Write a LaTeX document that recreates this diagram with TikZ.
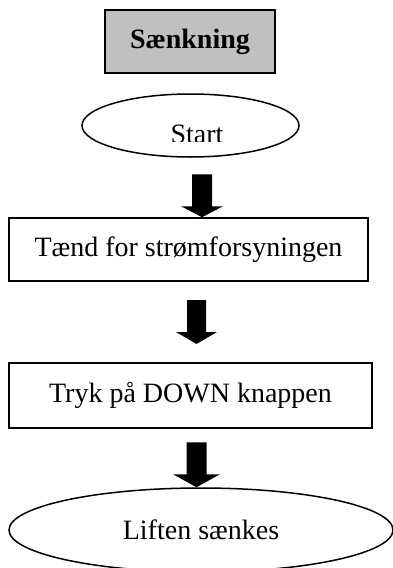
\documentclass[tikz,border=0pt]{standalone}
\usepackage{fontspec}
\setmainfont{Liberation Serif}
\usetikzlibrary{shapes.geometric}
\definecolor{titlegray}{HTML}{C0C0C0}
\tikzset{
  boxstyle/.style={draw=black, line width=1.5pt, rectangle, inner sep=0pt, font=\fontsize{28}{32}\selectfont},
  ovalstyle/.style={draw=black, line width=1.5pt, ellipse, inner sep=0pt, font=\fontsize{28}{32}\selectfont},
  blockarrow/.style={fill=black, draw=none},
  txt/.style={inner sep=0pt, font=\fontsize{28}{32}\selectfont}
}
\begin{document}
\begin{tikzpicture}[x=1pt,y=-1pt]
\useasboundingbox (0,0) rectangle (393,568);
% title
\node[boxstyle, fill=titlegray, minimum width=170pt, minimum height=63pt, font=\fontsize{28}{32}\selectfont\bfseries] (title) at (190,41.5) {Sænkning};
% start ellipse
\node[ovalstyle, minimum width=217pt, minimum height=63pt] (start) at (190.5,125.5) {};
\begin{scope}
\clip (0,0) rectangle (393,141);
\node[txt, anchor=base] (starttxt) at (197,143) {Start};
\end{scope}
% box 2
\node[boxstyle, minimum width=359pt, minimum height=63pt] (b2) at (188.5,249.5) {Tænd for strømforsyningen};
% box 3
\node[boxstyle, minimum width=363pt, minimum height=65pt] (b3) at (190.5,395.5) {Tryk på DOWN knappen};
% final ellipse
\node[ovalstyle, minimum width=384pt, minimum height=84pt] (endov) at (201,530) {Liften sænkes};
% arrows
\coordinate (t1) at ([xshift=13.5pt]b2.north);
\coordinate (t2) at (196.5,344);
\coordinate (t3) at ([xshift=-4.5pt]endov.north);
\fill[blockarrow] (t1) -- ++(-21,-11) -- ++(11,0) -- ++(0,-32) -- ++(20,0) -- ++(0,32) -- ++(11,0) -- cycle;
\fill[blockarrow] (t2) -- ++(-20.5,-12) -- ++(11,0) -- ++(0,-32) -- ++(19,0) -- ++(0,32) -- ++(11,0) -- cycle;
\fill[blockarrow] (t3) -- ++(-23.5,-13) -- ++(13.5,0) -- ++(0,-32) -- ++(20,0) -- ++(0,32) -- ++(13.5,0) -- cycle;
\end{tikzpicture}
\end{document}
